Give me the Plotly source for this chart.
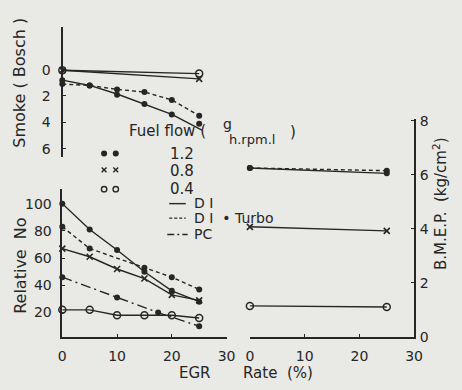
import plotly.graph_objects as go

W, H = 462, 390
INK = "#262626"
BG = "#e9e9e5"
FONT = "DejaVu Sans"

# ---------------- data ----------------
egr = [0, 5, 10, 15, 20, 25]

# Smoke (Bosch)
smoke_04_x = [0, 25]
smoke_04 = [0.05, 0.3]
smoke_08_x = [0, 25]
smoke_08 = [0.05, 0.7]
smoke_di12 = [0.8, 1.2, 1.9, 2.6, 3.4, 4.1]
smoke_di12_line_x = [0, 5, 10, 15, 20, 25.5]
smoke_di12_line = [0.8, 1.2, 1.85, 2.6, 3.4, 4.6]
smoke_turbo12 = [1.1, 1.2, 1.5, 1.7, 2.3, 3.5]

# Relative NO
no_di12 = [100, 81, 66, 50, 36, 28]
no_turbo12_x = [0, 5, 15, 20, 25]
no_turbo12 = [83, 67, 53, 46, 37]
no_di08 = [67, 61, 52, 45, 33, 29]
no_pc12_x = [0, 10, 17.5, 25]
no_pc12 = [46, 31, 20, 10]
no_di04 = [22, 22, 18, 18, 18, 16]

# B.M.E.P.
bmep_x = [0, 25]
bmep_di12 = [6.25, 6.05]
bmep_turbo12 = [6.25, 6.15]
bmep_08 = [4.07, 3.92]
bmep_04 = [1.14, 1.10]

x_ticks = [0, 10, 20, 30]
smoke_ticks = [0, 2, 4, 6]
no_ticks = [20, 40, 60, 80, 100]
bmep_ticks = [0, 2, 4, 6, 8]

# ---------------- helpers ----------------
def px(p):
    return p / W

def py(p):
    return 1 - p / H

DOT = dict(symbol="circle", size=6, color=INK)
OPEN = dict(symbol="circle-open", size=7, color=INK, line=dict(width=1.5, color=INK))
XM = dict(symbol="x-thin-open", size=6, color=INK, line=dict(width=1.6, color=INK))
SOLID = dict(color=INK, width=1.4)
DASH = dict(color=INK, width=1.4, dash="4px,3px")
DASHDOT = dict(color=INK, width=1.4, dash="10px,4px,2px,4px")

fig = go.Figure()

def add(x, y, xa, ya, line=None, marker=None):
    mode = []
    if line is not None:
        mode.append("lines")
    if marker is not None:
        mode.append("markers")
    fig.add_trace(go.Scatter(x=x, y=y, xaxis=xa, yaxis=ya, mode="+".join(mode),
                             line=line if line else None,
                             marker=marker if marker else None,
                             showlegend=False, hoverinfo="skip", cliponaxis=False))

# Smoke panel
add(smoke_04_x, smoke_04, "x", "y2", SOLID, OPEN)
add(smoke_08_x, smoke_08, "x", "y2", SOLID, XM)
add(smoke_di12_line_x, smoke_di12_line, "x", "y2", SOLID, None)
add(egr, smoke_di12, "x", "y2", None, DOT)
add(egr, smoke_turbo12, "x", "y2", DASH, DOT)

# Relative NO panel
add(egr, no_di12, "x", "y", SOLID, DOT)
add(no_turbo12_x, no_turbo12, "x", "y", DASH, DOT)
add(egr, no_di08, "x", "y", SOLID, XM)
add(no_pc12_x, no_pc12, "x", "y", DASHDOT, DOT)
add(egr, no_di04, "x", "y", SOLID, OPEN)

# BMEP panel
add(bmep_x, bmep_turbo12, "x2", "y3", DASH, DOT)
add(bmep_x, bmep_di12, "x2", "y3", SOLID, DOT)
add(bmep_x, bmep_08, "x2", "y3", SOLID, XM)
add(bmep_x, bmep_04, "x2", "y3", SOLID, OPEN)

tickfont = dict(family=FONT, size=14, color=INK)
common = dict(showline=True, linecolor=INK, linewidth=1.6, ticks="inside", ticklen=3,
              tickcolor=INK, tickwidth=1.4, showgrid=False, zeroline=False,
              tickfont=tickfont, fixedrange=True)

# NO mapping: 100 -> 205px, 20 -> 318px
no_slope = (318 - 205) / 80.0
no_zero = 318 + 20 * no_slope
no_range = [(no_zero - 343) / no_slope, (no_zero - 190) / no_slope]
# Smoke mapping: 0 -> 66px, 6 -> 148px
sm_slope = (148 - 66) / 6.0
sm_range = [(157 - 66) / sm_slope, (22 - 66) / sm_slope]
# BMEP mapping: 0 -> 343px, 6 -> 175px
bm_slope = (343 - 175) / 6.0
bm_range = [0, (343 - 117) / bm_slope]

fig.update_layout(
    width=W, height=H, autosize=False,
    margin=dict(l=0, r=0, t=0, b=0, pad=0),
    paper_bgcolor=BG, plot_bgcolor="rgba(0,0,0,0)",
    font=dict(family=FONT, color=INK),
    xaxis=dict(domain=[px(60), px(229)], range=[0, 30], anchor="y",
               tickvals=x_ticks, ticklabelstandoff=6, **common),
    xaxis2=dict(domain=[px(253), px(422)], range=[0, 30], anchor="y3",
                tickvals=x_ticks, ticklabelstandoff=6, **common),
    yaxis=dict(domain=[py(343), py(190)], range=no_range, anchor="x",
               tickvals=no_ticks, ticklabelstandoff=6, **common),
    yaxis2=dict(domain=[py(157), py(22)], range=sm_range, anchor="free", position=px(60),
                tickvals=smoke_ticks, ticklabelstandoff=8, **common),
    yaxis3=dict(domain=[py(343), py(117)], range=bm_range, anchor="x2", side="right",
                tickvals=bmep_ticks, ticklabelstandoff=1, **common),
)

annos = []
def text(t, x, y, size=15, angle=0, xanchor="center", yanchor="middle"):
    annos.append(dict(text=t, x=px(x), y=py(y), xref="paper", yref="paper",
                      showarrow=False, textangle=angle, xanchor=xanchor, yanchor=yanchor,
                      borderpad=0,
                      font=dict(family=FONT, size=size, color=INK)))

text("Smoke ( Bosch )", 16, 80, 16, -90)
text("Relative  No", 17, 270, 16, -90)
text("B.M.E.P.  (kg/cm<sup>2</sup>)", 448, 205, 15, -90)
text("EGR", 197, 381, 15, yanchor="middle")
text("Rate  (%)", 282, 381, 15, yanchor="middle")
text("Fuel flow (", 128, 130, 15, xanchor="left")
text("g", 224, 122, 14, xanchor="left")
text("h.rpm.l", 230, 138, 13, xanchor="left")
text(")", 293, 131, 15, xanchor="left")
text("1.2", 183, 153, 15)
text("0.8", 183, 171, 15)
text("0.4", 183, 190, 15)
text("D I", 194, 204, 14, xanchor="left")
text("D I  • Turbo", 194, 220, 14, xanchor="left")
text("PC", 194, 237, 14, xanchor="left")
fig.update_layout(annotations=annos)

shapes = []
def dot(x, y, r=2.6, filled=True):
    shapes.append(dict(type="circle", xref="paper", yref="paper",
                       x0=px(x - r), x1=px(x + r), y0=py(y + r), y1=py(y - r),
                       line=dict(color=INK, width=1.4),
                       fillcolor=INK if filled else "rgba(0,0,0,0)"))

def seg(x0, y0, x1, y1, dash="solid"):
    shapes.append(dict(type="line", xref="paper", yref="paper",
                       x0=px(x0), y0=py(y0), x1=px(x1), y1=py(y1),
                       line=dict(color=INK, width=1.4, dash=dash)))

def xmark(x, y, r=2.5):
    seg(x - r, y - r, x + r, y + r)
    seg(x - r, y + r, x + r, y - r)

for lx in (103, 115):
    dot(lx, 153, 2.4, True)
    xmark(lx, 170)
    dot(lx, 190, 2.8, False)
seg(170, 205, 187, 205)
seg(170, 220, 187, 220, "3px,2px")
seg(168, 237, 189, 237, "7px,3px,2px,3px")
fig.update_layout(shapes=shapes)

fig.write_html("out.html", config={"displayModeBar": False})
